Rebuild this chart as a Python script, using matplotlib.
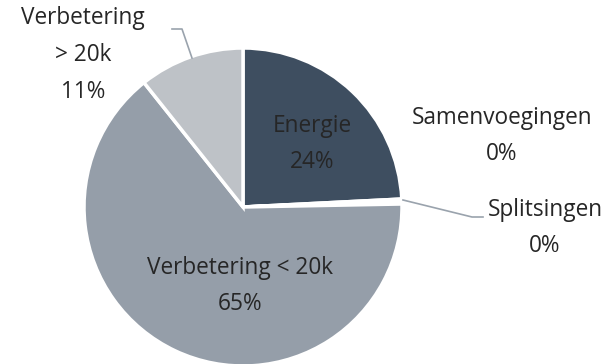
import matplotlib
matplotlib.use("Agg")
import matplotlib.pyplot as plt

# Share of projects per category
categories = ["Energie", "Samenvoegingen", "Splitsingen",
              "Verbetering < 20k", "Verbetering > 20k"]
shares = [24.2, 0.2, 0.3, 64.6, 10.7]
colors = ["#3e4e60", "#ffffff", "#ffffff", "#959ea9", "#bec2c7"]

plt.rcParams["font.family"] = ["Open Sans", "DejaVu Sans"]

fig = plt.figure(figsize=(6.06, 3.64), dpi=100)
ax = fig.add_axes([0, 0, 1, 1])

ax.pie(shares, colors=colors, startangle=90, counterclock=False,
       center=(243, 157), radius=159,
       wedgeprops=dict(edgecolor="white", linewidth=2.5))

# pie() resets the limits, so pin the pixel-like frame afterwards
ax.set_xlim(0, 606)
ax.set_ylim(0, 364)
ax.set_aspect("equal")
ax.axis("off")


def label(name, value):
    return "{}\n{:.0f}%".format(name, value)


txt = dict(ha="center", va="center", fontsize=16.3, color="#262626",
           linespacing=1.72)
ax.text(312, 220, label("Energie", shares[0]), **txt)
ax.text(502, 228, label("Samenvoegingen", shares[1]), **txt)
ax.text(545, 136, label("Splitsingen", shares[2]), **txt)
ax.text(240, 78, label("Verbetering < 20k", shares[3]), **txt)
ax.text(83, 309, label("Verbetering\n> 20k", shares[4]), **txt)

# leader lines for the outside labels
lead = dict(color="#9aa3ad", linewidth=1.2)
ax.plot([172, 182, 192], [335, 335, 306], **lead)
ax.plot([403, 472, 483], [164, 147, 147], **lead)

fig.savefig("out.png", dpi=100)
